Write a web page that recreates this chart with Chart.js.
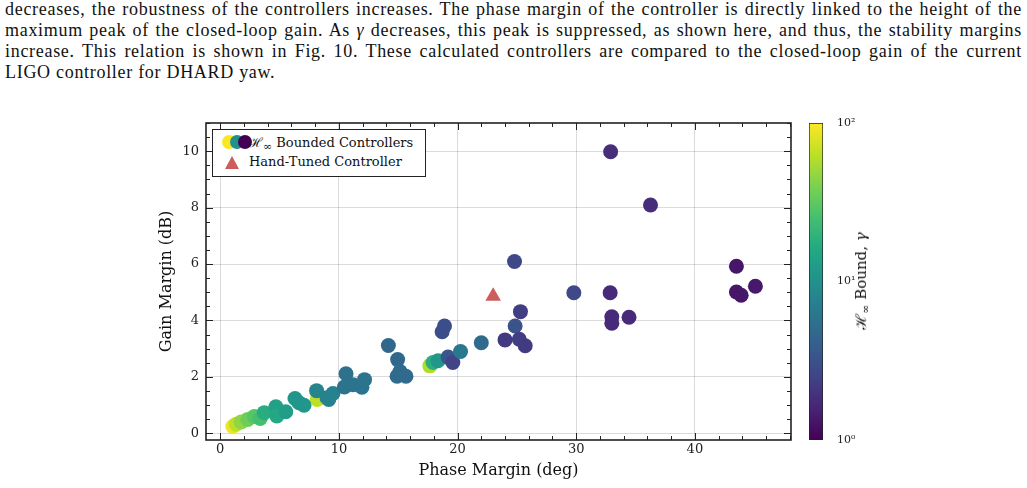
<!DOCTYPE html>
<html>
<head>
<meta charset="utf-8">
<script src="https://cdn.jsdelivr.net/npm/chart.js@4"></script>
<style>
  html, body { margin: 0; padding: 0; background: #fff; }
  body { width: 1027px; height: 488px; position: relative; overflow: hidden; }
  #text { position: absolute; left: 5px; top: -1px; width: 1017px; font-family: "Liberation Serif", serif; font-size: 18px; letter-spacing: 0.7px; line-height: 21px; color: #111; }
  #text div { text-align: justify; text-align-last: justify; white-space: nowrap; }
  #text div.last { text-align-last: left; }
  #mainWrap { position: absolute; left: 140px; top: 100px; width: 660px; height: 388px; }
  #barWrap { position: absolute; left: 800px; top: 100px; width: 90px; height: 388px; }
  #legend { position: absolute; left: 212px; top: 129px; width: 212px; height: 46px; border: 1px solid #222; background: #fff; font-family: "DejaVu Serif", serif; font-size: 13px; color: #111; }
  #legend .row { position: absolute; left: 36px; }
  .dot { position: absolute; width: 14px; height: 14px; border-radius: 50%; top: 5px; }
  .tri { position: absolute; left: 12px; top: 26px; width: 0; height: 0; border-left: 7.5px solid transparent; border-right: 7.5px solid transparent; border-bottom: 13px solid #cd5c5c; }
  #cbTitle { position: absolute; left: 861px; top: 281px; transform: translate(-50%, -50%) rotate(-90deg); font-family: "DejaVu Serif", serif; font-size: 15px; white-space: nowrap; color: #111; }
  sub { font-size: 11px; vertical-align: -3px; }
</style>
</head>
<body>
<div id="text">
  <div>decreases, the robustness of the controllers increases. The phase margin of the controller is directly linked to the height of the</div>
  <div>maximum peak of the closed-loop gain. As <i>γ</i> decreases, this peak is suppressed, as shown here, and thus, the stability margins</div>
  <div>increase. This relation is shown in Fig. 10. These calculated controllers are compared to the closed-loop gain of the current</div>
  <div class="last">LIGO controller for DHARD yaw.</div>
</div>
<div id="mainWrap"><canvas id="main"></canvas></div>
<div id="barWrap"><canvas id="cbar"></canvas></div>
<div id="legend">
  <span class="dot" style="left:9px;background:#fde725"></span>
  <span class="dot" style="left:17px;background:#21918c"></span>
  <span class="dot" style="left:25px;background:#440154"></span>
  <span class="row" style="top:3px">ℋ<sub>∞</sub> Bounded Controllers</span>
  <span class="tri"></span>
  <span class="row" style="top:24px">Hand-Tuned Controller</span>
</div>
<div id="cbTitle">ℋ<sub>∞</sub> Bound, <i>γ</i></div>
<script>
// H-infinity bounded controllers: phase margin (deg), gain margin (dB), bound gamma
const phaseMargin = [8.17, 17.66, 17.93,
  1.06, 1.34, 1.76, 2.32, 2.87, 3.37, 3.71, 4.69, 4.77, 5.52,
  6.30, 6.64, 7.06, 8.12, 9.00, 9.15, 9.50,
  10.46, 10.60, 11.20, 11.94, 12.16,
  14.17, 14.95, 15.15, 14.90, 15.65,
  18.35, 18.70, 18.90, 19.20, 19.60, 20.25, 22.00,
  24.00, 24.80, 24.85, 25.20, 25.30, 25.70,
  29.80, 32.86, 32.90, 33.00, 33.00, 34.45, 36.26,
  43.50, 43.50, 43.90, 45.10];
const gainMargin = [1.20, 2.39, 2.51,
  0.24, 0.32, 0.40, 0.49, 0.59, 0.52, 0.73, 0.94, 0.61, 0.76,
  1.23, 1.08, 0.99, 1.51, 1.26, 1.20, 1.41,
  1.64, 2.11, 1.72, 1.63, 1.90,
  3.11, 2.61, 2.19, 2.02, 2.02,
  2.57, 3.60, 3.80, 2.70, 2.51, 2.90, 3.21,
  3.31, 6.09, 3.80, 3.33, 4.31, 3.10,
  4.98, 4.98, 9.98, 4.13, 3.90, 4.11, 8.09,
  5.92, 5.01, 4.89, 5.21];
const gammaBound = [63, 58, 18,
  91, 63, 46, 36, 29, 25, 17.4, 13.8, 16, 12.6,
  11, 11, 11, 7.9, 7.6, 7.6, 7.6,
  5.8, 5.5, 5.8, 5.8, 5.8,
  4.6, 4.6, 5.0, 5.0, 5.0,
  11, 3.0, 3.0, 3.5, 2.5, 6.3, 5.0,
  2.2, 2.75, 3.3, 2.3, 2.3, 2.2,
  2.75, 1.74, 1.82, 1.74, 1.74, 1.74, 1.82,
  1.32, 1.32, 1.32, 1.38];

// current LIGO hand-tuned controller
const handPhase = [23.0];
const handGain = [4.86];

const xTicks = [0, 10, 20, 30, 40];
const yTicks = [0, 2, 4, 6, 8, 10];
const cbTicks = [1, 10, 100];
const cbTickLabels = ["10⁰", "10¹", "10²"];

const viridis = ["#440154", "#482475", "#414487", "#355f8d", "#2a788e", "#21918c",
  "#22a884", "#44bf70", "#7ad151", "#bddf26", "#fde725"];

function hex(c) {
  return [1, 3, 5].map((i) => parseInt(c.slice(i, i + 2), 16));
}

function cmap(t) {
  t = Math.min(1, Math.max(0, t));
  const f = t * (viridis.length - 1);
  const i = Math.min(viridis.length - 2, Math.floor(f));
  const a = hex(viridis[i]), b = hex(viridis[i + 1]);
  const k = f - i;
  const c = a.map((v, j) => Math.round(v + (b[j] - v) * k));
  return `rgb(${c[0]},${c[1]},${c[2]})`;
}

const serif = "'DejaVu Serif', serif";
const pointColors = gammaBound.map((g) => cmap(Math.log10(g) / 2));

// box + inward ticks on all four sides, matplotlib style
const frame = {
  id: "frame",
  afterDraw(chart) {
    const { ctx, chartArea: a, scales } = chart;
    const xs = scales.x, ys = scales.y;
    ctx.save();
    ctx.strokeStyle = "#222";
    ctx.lineWidth = 1;
    const tick = (len, xv, yv) => {
      if (xv !== null) {
        const p = Math.round(xs.getPixelForValue(xv)) + 0.5;
        ctx.beginPath();
        ctx.moveTo(p, a.bottom); ctx.lineTo(p, a.bottom - len);
        ctx.moveTo(p, a.top); ctx.lineTo(p, a.top + len);
        ctx.stroke();
      } else {
        const p = Math.round(ys.getPixelForValue(yv)) + 0.5;
        ctx.beginPath();
        ctx.moveTo(a.left, p); ctx.lineTo(a.left + len, p);
        ctx.moveTo(a.right, p); ctx.lineTo(a.right - len, p);
        ctx.stroke();
      }
    };
    for (let v = 0; v <= xs.max; v += 2) tick(v % 10 === 0 ? 7 : 4, v, null);
    for (let v = 0; v <= ys.max; v += 0.5) tick(v % 2 === 0 ? 7 : 4, null, v);
    ctx.lineWidth = 1.6;
    ctx.strokeRect(a.left, a.top, a.right - a.left, a.bottom - a.top);
    ctx.restore();
  },
};

new Chart(document.getElementById("main"), {
  type: "scatter",
  data: {
    datasets: [
      {
        label: "Bounded Controllers",
        data: phaseMargin.map((x, i) => ({ x, y: gainMargin[i] })),
        backgroundColor: pointColors,
        borderWidth: 0,
        pointRadius: 7.5,
        pointHoverRadius: 7.5,
      },
      {
        label: "Hand-Tuned Controller",
        data: handPhase.map((x, i) => ({ x, y: handGain[i] })),
        backgroundColor: "#cd5c5c",
        borderWidth: 0,
        pointStyle: "triangle",
        pointRadius: 9,
        pointHoverRadius: 9,
      },
    ],
  },
  options: {
    responsive: true,
    maintainAspectRatio: false,
    animation: false,
    layout: { padding: { top: 23, right: 5, left: 0, bottom: 0 } },
    plugins: { legend: { display: false }, tooltip: { enabled: false } },
    scales: {
      x: {
        type: "linear",
        min: -1.2,
        max: 48.1,
        afterBuildTicks: (s) => { s.ticks = xTicks.map((value) => ({ value })); },
        afterFit: (s) => { s.height = 48; },
        grid: { color: "rgba(0,0,0,0.14)", drawTicks: false },
        border: { display: false },
        ticks: { color: "#222", font: { family: serif, size: 13 }, padding: 2 },
        title: { display: true, text: "Phase Margin (deg)", color: "#111", font: { family: serif, size: 16 }, padding: { bottom: 8 } },
      },
      y: {
        type: "linear",
        min: -0.24,
        max: 11,
        afterBuildTicks: (s) => { s.ticks = yTicks.map((value) => ({ value })); },
        afterFit: (s) => { s.width = 66; },
        grid: { color: "rgba(0,0,0,0.14)", drawTicks: false },
        border: { display: false },
        ticks: { color: "#222", font: { family: serif, size: 13 }, padding: 7 },
        title: { display: true, text: "Gain Margin (dB)", color: "#111", font: { family: serif, size: 16 }, padding: { top: 17 } },
      },
    },
  },
  plugins: [frame],
});

// colorbar: a single floating bar on a log scale, filled with viridis
new Chart(document.getElementById("cbar"), {
  type: "bar",
  data: {
    labels: [""],
    datasets: [{
      data: [[cbTicks[0], cbTicks[cbTicks.length - 1]]],
      backgroundColor: (ctx) => {
        const a = ctx.chart.chartArea;
        if (!a) return viridis[5];
        const g = ctx.chart.ctx.createLinearGradient(0, a.bottom, 0, a.top);
        viridis.forEach((c, i) => g.addColorStop(i / (viridis.length - 1), c));
        return g;
      },
      borderColor: "#222",
      borderWidth: 1,
      borderSkipped: false,
      barPercentage: 1,
      categoryPercentage: 1,
    }],
  },
  options: {
    responsive: true,
    maintainAspectRatio: false,
    animation: false,
    layout: { padding: { top: 23, left: 9, bottom: 48, right: 0 } },
    plugins: { legend: { display: false }, tooltip: { enabled: false } },
    scales: {
      x: { display: false },
      y: {
        type: "logarithmic",
        position: "right",
        min: 1,
        max: 100,
        afterBuildTicks: (s) => { s.ticks = cbTicks.map((value) => ({ value })); },
        afterFit: (s) => { s.width = 67; },
        grid: { display: false },
        border: { display: false },
        ticks: {
          color: "#222",
          font: { family: serif, size: 11 },
          padding: 6,
          callback: (v) => cbTickLabels[cbTicks.indexOf(v)],
        },
      },
    },
  },
});
</script>
</body>
</html>
